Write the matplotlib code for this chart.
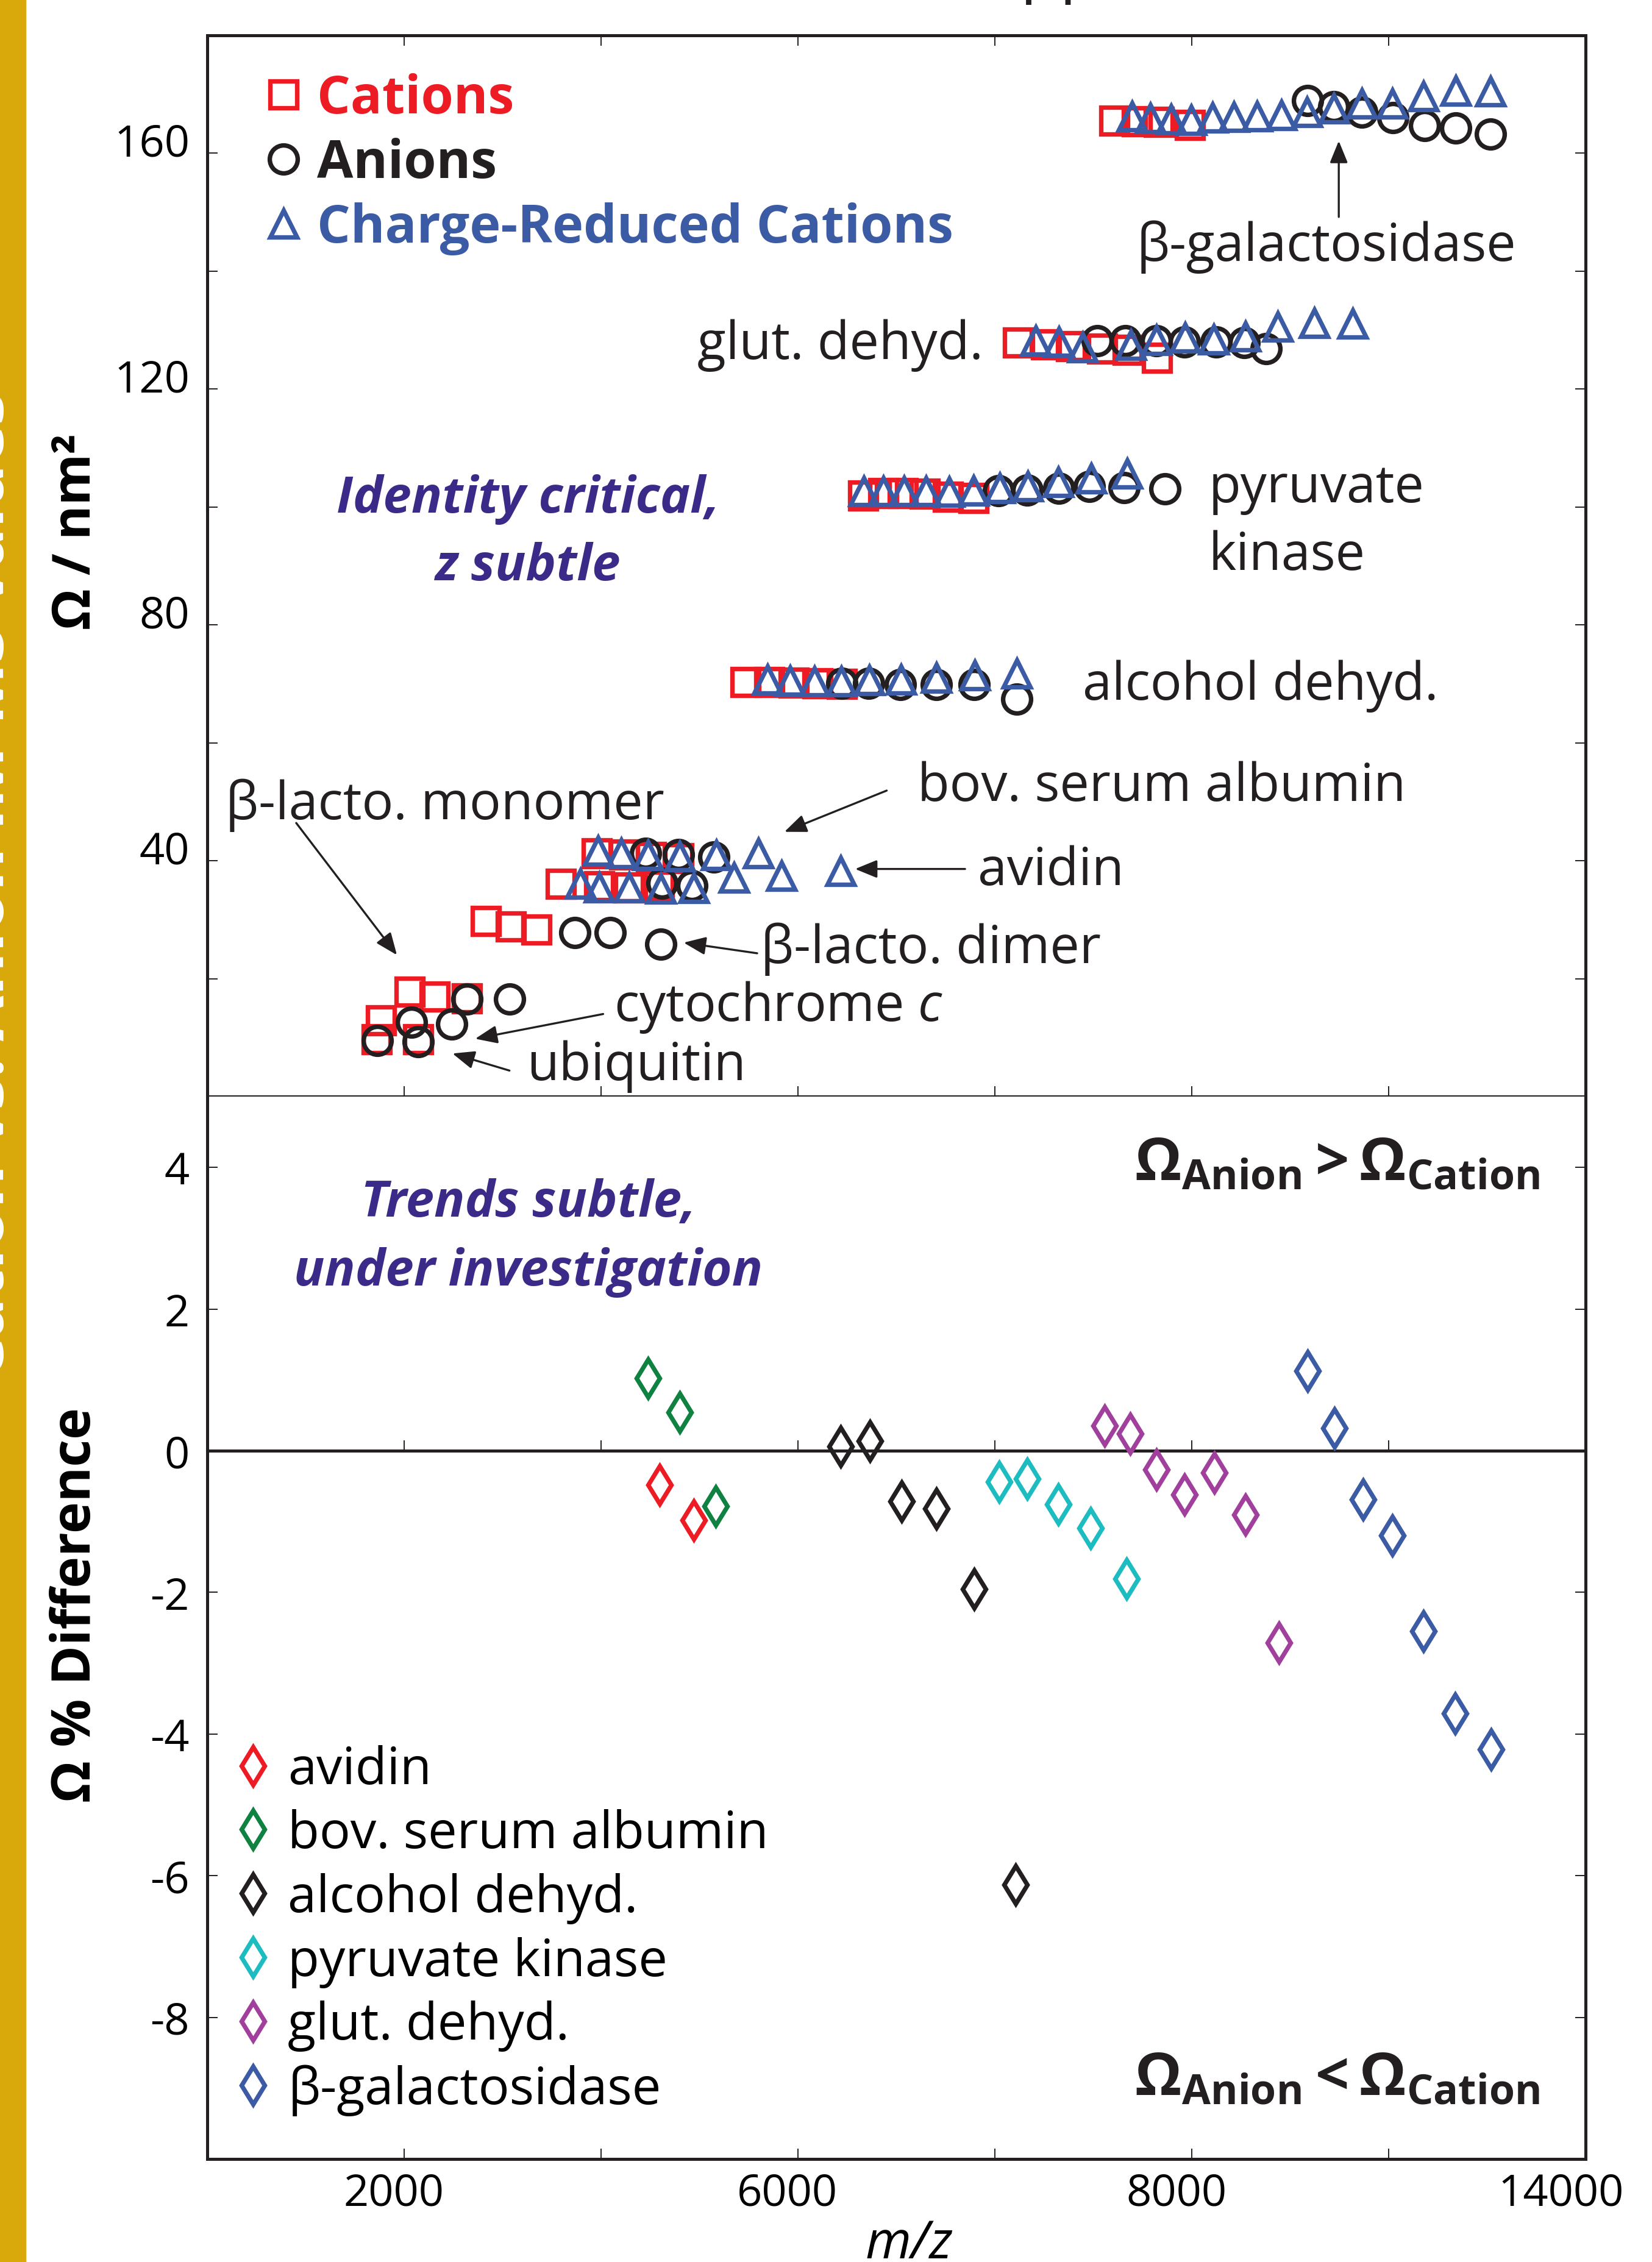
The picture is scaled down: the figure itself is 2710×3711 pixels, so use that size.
import numpy as np
import matplotlib
matplotlib.use('Agg')
import matplotlib.pyplot as plt
from matplotlib.patches import Rectangle

plt.rcParams['font.family'] = ['Open Sans', 'DejaVu Sans']
plt.rcParams['mathtext.fontset'] = 'custom'
plt.rcParams['mathtext.rm'] = 'Open Sans'
plt.rcParams['mathtext.it'] = 'Open Sans:italic'
plt.rcParams['mathtext.bf'] = 'Open Sans:bold'

RED = '#ed1c24'
BLACK = '#231f20'
BLUE = '#3b5ba5'
GREEN = '#0f8140'
CYAN = '#1cbcc0'
PURPLE = '#a0409c'
TXTPURPLE = '#3b2a87'
GOLD = '#d9a90c'

# ---- upper panel: collision cross sections (nm^2) vs m/z ----
# cations (squares): ubiquitin, cyt c, b-lacto dimer, BSA/avidin, ADH, PK, GDH, b-gal
cat_x = [1764, 1719, 2140,
         2053, 2308, 2635,
         2831, 3081, 3346,
         3955, 4232, 4509, 4785, 3590, 3982, 4287, 4590,
         5465, 5707, 5954, 6200, 6448,
         6659, 6867, 7064, 7286, 7524, 7780,
         8233, 8521, 8776, 9092, 9347, 9646,
         9214, 9444, 9664, 9982]
cat_y = [12.9, 9.7, 9.7,
         17.8, 16.9, 16.6,
         29.8, 28.8, 28.3,
         41.2, 41.0, 40.6, 40.4, 36.1, 35.7, 35.5, 35.8,
         70.3, 70.3, 70.2, 70.1, 70.0,
         101.9, 102.4, 102.4, 102.2, 101.7, 101.5,
         127.9, 127.6, 127.3, 126.9, 126.7, 125.3,
         165.5, 165.4, 165.3, 164.8]

# anions (circles)
an_x = [1725, 2140,
        2075, 2484, 2635, 3070,
        3733, 4092, 4606,
        4454, 4785, 5145, 4618, 4921,
        6448, 6715, 7037, 7408, 7789, 8223,
        8037, 8330, 8652, 8960, 9312, 9729,
        9038, 9324, 9642, 9927, 10245, 10531, 10754,
        11173, 11444, 11730, 12046, 12366, 12682, 13034]
an_y = [9.5, 9.3,
        12.6, 12.3, 16.5, 16.5,
        27.8, 27.8, 25.8,
        41.2, 41.0, 40.6, 36.2, 35.8,
        70.1, 70.1, 69.9, 69.9, 69.9, 67.4,
        102.8, 102.9, 103.2, 103.5, 103.3, 103.1,
        128.2, 128.2, 128.2, 128.0, 128.0, 127.9, 126.9,
        168.9, 167.9, 167.0, 166.0, 164.7, 164.3, 163.3]

# charge-reduced cations (triangles)
cr_x = [3966, 4203, 4479, 4800, 5170, 5595,
        3788, 3982, 4287, 4606, 4939, 5348, 5834, 6431,
        5691, 5922, 6164, 6441, 6727, 7048, 7404, 7794, 8223,
        6668, 6867, 7078, 7297, 7533, 7780, 8047, 8333, 8645, 8976, 9341,
        8412, 8648, 8890, 9379, 9640, 9932, 10225, 10543, 10873, 11242, 11636,
        9391, 9576, 9791, 9995, 10210, 10427, 10663, 10909, 11170, 11444,
        11730, 12035, 12353, 12682, 13034]
cr_y = [41.7, 41.3, 40.9, 40.7, 40.9, 41.3,
        36.1, 35.5, 35.5, 35.3, 35.4, 37.1, 37.4, 38.3,
        70.7, 70.5, 70.4, 70.4, 70.6, 70.7, 71.0, 71.4, 71.8,
        102.7, 102.7, 102.7, 102.7, 102.6, 102.8, 103.2, 103.5, 104.2, 104.8, 105.7,
        128.2, 128.0, 127.1, 127.5, 128.3, 128.7, 128.4, 128.9, 130.6, 131.2, 131.1,
        166.2, 165.9, 165.7, 165.6, 166.0, 166.1, 166.2, 166.5, 167.0, 167.6,
        168.4, 168.4, 169.7, 170.6, 170.5]

# ---- lower panel: % difference anion vs cation ----
avi_x, avi_y = [4593, 4942], [-0.48, -0.98]
bsa_x, bsa_y = [4476, 4798, 5164], [1.02, 0.54, -0.78]
adh_x = [6434, 6728, 7052, 7407, 7789, 8213]
adh_y = [0.06, 0.14, -0.71, -0.82, -1.95, -6.13]
pk_x = [8043, 8330, 8641, 8972, 9334]
pk_y = [-0.44, -0.40, -0.76, -1.09, -1.81]
gdh_x = [9117, 9372, 9639, 9924, 10231, 10543, 10886]
gdh_y = [0.35, 0.24, -0.27, -0.62, -0.31, -0.90, -2.71]
bgal_x = [11177, 11451, 11737, 12035, 12353, 12677, 13040]
bgal_y = [1.13, 0.32, -0.69, -1.20, -2.55, -3.71, -4.22]

x_tick_marks = [2000, 4000, 6000, 8000, 10000, 12000]
x_label_pos = [1895, 5890, 9842, 13751]
x_labels = ['2000', '6000', '8000', '14000']
up_ticks = [20, 40, 60, 80, 100, 120, 140, 160]
up_labels = [40, 80, 120, 160]
low_ticks = [-8, -6, -4, -2, 0, 2, 4]

fig = plt.figure(figsize=(27.1, 37.12), dpi=100)

# gold strip on the left with clipped title text
fig.patches.append(Rectangle((0, 0), 42 / 2710, 1, transform=fig.transFigure,
                             color=GOLD, zorder=0))
fig.text(6 / 2710, 1 - 1453 / 3712, 'Cation vs. Anion IM-MS Values', rotation=90,
         rotation_mode='anchor', ha='center', va='baseline', color='white',
         fontsize=78, weight='bold')
# clipped text above the figure
fig.text(1674 / 2710, 1 + 17 / 3712, 'pp', ha='left', va='baseline', fontsize=77,
         color=BLACK)

ax1 = fig.add_axes([0.1255, 0.5151, 0.8343, 0.4690])
ax2 = fig.add_axes([0.1255, 0.0455, 0.8343, 0.4696])

mk = dict(ls='none', mfc='none', mew=5.3)
ax1.plot(cat_x, cat_y, 's', color=RED, ms=32, label='Cations', **mk)
ax1.plot(an_x, an_y, 'o', color=BLACK, ms=33, label='Anions', **mk)
ax1.plot(cr_x, cr_y, '^', color=BLUE, ms=32, label='Charge-Reduced Cations', **mk)

ax1.set_xlim(0, 14000)
ax1.set_ylim(0, 180)
ax1.set_xticks(x_tick_marks, minor=True)
ax1.set_xticks([])
ax1.set_yticks(up_ticks, minor=True)
ax1.set_yticks([v + 2.4 for v in up_labels], labels=[str(v) for v in up_labels])
ax1.tick_params(which='minor', direction='in', length=12, width=1.4,
                top=True, right=True, color=BLACK)
ax1.tick_params(which='major', length=0, pad=21, labelsize=52)

leg1 = ax1.legend(loc='upper left', bbox_to_anchor=(0.040, 0.965), frameon=False,
                  prop={'weight': 'bold', 'size': 62}, labelcolor='markeredgecolor',
                  handlelength=0.8, handletextpad=0.24, labelspacing=0.22,
                  borderaxespad=0, borderpad=0, numpoints=1)

# annotations in the upper panel
arw = dict(arrowstyle='-|>,head_length=2.2,head_width=0.9', mutation_scale=10,
           lw=2.4, color=BLACK, shrinkA=0, shrinkB=0)
tk = dict(fontsize=62, color=BLACK, va='baseline')
ax1.text(9443, 141.9, 'β-galactosidase', ha='left', **tk)
ax1.annotate('', xy=(11493, 162.1), xytext=(11493, 149.2), arrowprops=arw)
ax1.text(7883, 125.2, 'glut. dehyd.', ha='right', **tk)
ax1.text(10173, 89.4, 'pyruvate\nkinase', ha='left', linespacing=1.38, **tk)
ax1.text(8890, 67.4, 'alcohol dehyd.', ha='left', **tk)
ax1.text(7214, 50.2, 'bov. serum albumin', ha='left', **tk)
ax1.annotate('', xy=(5862, 44.9), xytext=(6901, 51.9), arrowprops=arw)
ax1.text(7824, 36.0, 'avidin', ha='left', **tk)
ax1.annotate('', xy=(6580, 38.6), xytext=(7697, 38.6), arrowprops=arw)
ax1.text(5623, 22.7, 'β-lacto. dimer', ha='left', **tk)
ax1.annotate('', xy=(4839, 26.1), xytext=(5585, 24.3), arrowprops=arw)
ax1.text(4131, 12.9, r'cytochrome $\mathit{c}$', ha='left', **tk)
ax1.annotate('', xy=(2721, 9.8), xytext=(4021, 14.0), arrowprops=arw)
ax1.text(3246, 2.9, 'ubiquitin', ha='left', **tk)
ax1.annotate('', xy=(2490, 7.3), xytext=(3069, 4.4), arrowprops=arw)
ax1.text(185, 47.1, 'β-lacto. monomer', ha='left', **tk)
ax1.annotate('', xy=(1926, 24.0), xytext=(903, 46.4), arrowprops=arw)

ax1.text(3259, 87.7, 'Identity critical,\nz subtle', ha='center', va='baseline',
         multialignment='center', fontsize=60, weight='bold', style='italic',
         color=TXTPURPLE, linespacing=1.44)

# ---- lower panel ----
dk = dict(ls='none', mfc='none', mew=5.3, ms=32, marker='d')
ax2.plot(avi_x, avi_y, color=RED, label='avidin', **dk)
ax2.plot(bsa_x, bsa_y, color=GREEN, label='bov. serum albumin', **dk)
ax2.plot(adh_x, adh_y, color=BLACK, label='alcohol dehyd.', **dk)
ax2.plot(pk_x, pk_y, color=CYAN, label='pyruvate kinase', **dk)
ax2.plot(gdh_x, gdh_y, color=PURPLE, label='glut. dehyd.', **dk)
ax2.plot(bgal_x, bgal_y, color=BLUE, label='β-galactosidase', **dk)

lo, hi = -10, 5
ax2.set_xlim(0, 14000)
ax2.set_ylim(lo, hi)
ax2.set_xticks(x_tick_marks, minor=True)
ax2.set_xticks(x_label_pos, labels=x_labels)
ax2.set_yticks(low_ticks, labels=[str(v) for v in low_ticks])
ax2.tick_params(axis='x', which='minor', direction='in', length=12, width=1.4,
                top=False, color=BLACK)
ax2.tick_params(axis='x', which='major', length=0, pad=15, labelsize=52, top=False)
ax2.tick_params(axis='y', direction='in', length=12, width=1.4, right=True,
                pad=21, labelsize=52, color=BLACK)
ax2.spines['top'].set_visible(False)

# zero line with its own upward ticks
sec = ax2.secondary_xaxis((0 - lo) / (hi - lo))
sec.set_xticks(x_tick_marks)
sec.tick_params(axis='x', direction='out', length=12, width=1.4, color=BLACK,
                labeltop=False, labelbottom=False)
for s in sec.spines.values():
    s.set_linewidth(3.6)
    s.set_color(BLACK)

ax2.legend(loc='upper left', bbox_to_anchor=(0.018, 0.390), frameon=False,
           prop={'size': 61}, handlelength=0.8, handletextpad=0.28,
           labelspacing=0.245, borderaxespad=0, borderpad=0, numpoints=1)

ax2.text(3259, 2.34, 'Trends subtle,\nunder investigation', ha='center',
         va='baseline', multialignment='center', fontsize=60, weight='bold',
         style='italic', color=TXTPURPLE, linespacing=1.48)
ax2.text(13533, 3.82, r'$\mathbf{\Omega_{Anion} > \Omega_{Cation}}$', ha='right',
         va='baseline', fontsize=70, color=BLACK)
ax2.text(13533, -9.09, r'$\mathbf{\Omega_{Anion} < \Omega_{Cation}}$', ha='right',
         va='baseline', fontsize=70, color=BLACK)

for ax in (ax1, ax2):
    for s in ax.spines.values():
        s.set_linewidth(3.6)
        s.set_color(BLACK)

fig.text(126 / 2710, 1 - 872 / 3712, 'Ω / nm²', rotation=90, ha='center',
         va='center', fontsize=62, weight='bold', color='black')
fig.text(125 / 2710, 1 - 2633 / 3712, 'Ω % Difference', rotation=90, ha='center',
         va='center', fontsize=63, weight='bold', color='black')
fig.text(1491 / 2710, 7 / 3712, 'm/z', ha='center', va='baseline', fontsize=62,
         style='italic', color='black')

fig.savefig('out.png', dpi=100)
